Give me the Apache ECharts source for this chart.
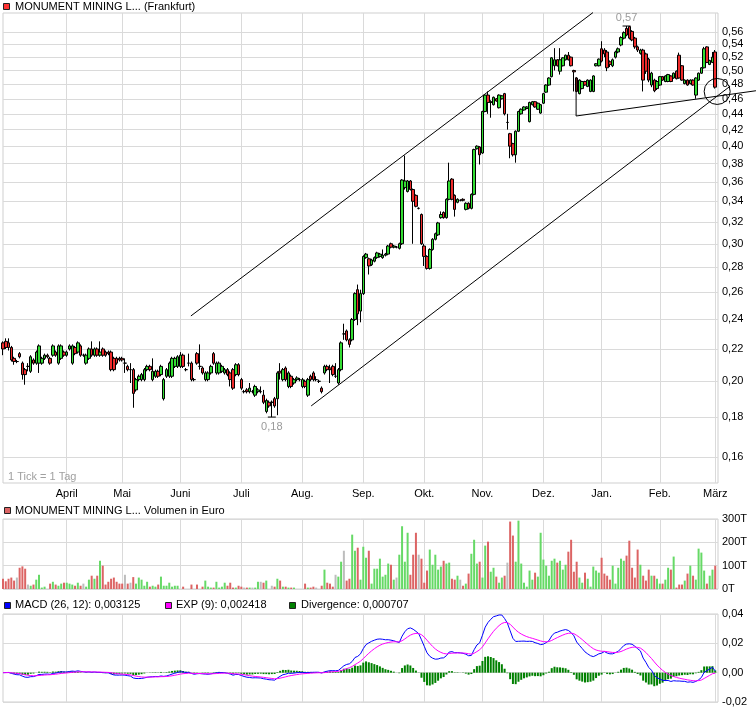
<!DOCTYPE html>
<html><head><meta charset="utf-8">
<script src="https://cdn.jsdelivr.net/npm/echarts@6/dist/echarts.min.js"></script>
<style>html,body{margin:0;padding:0;background:#fff}#c{width:756px;height:724px}</style>
</head><body><div id="c"></div>
<script>
// ---------- data ----------
const firstDay = '2010-03-01', lastDay = '2011-03-02';
const holidays = ['2010-04-02','2010-04-05','2010-12-24','2010-12-31'];
const monthLabels = ['Jan.','Feb.','März','April','Mai','Juni','Juli','Aug.','Sep.','Okt.','Nov.','Dez.'];
const priceTicks = [0.16,0.18,0.20,0.22,0.24,0.26,0.28,0.30,0.32,0.34,0.36,0.38,0.40,0.42,0.44,0.46,0.48,0.50,0.52,0.54,0.56];
const priceRange = [0.1482, 0.5923];
const volumeTicksT = [0, 100, 200, 300];
const macdRange = [-0.02, 0.04];
const titleMain = 'MONUMENT MINING L... (Frankfurt)';
const titleVolume = 'MONUMENT MINING L... Volumen in Euro';
const macdLegend = ['MACD (26, 12): 0,003125', 'EXP (9): 0,002418', 'Divergence: 0,000707'];
const tickNote = '1 Tick = 1 Tag';

// [open, close, low, high] per trading day
const ohlc = [
// März
[.224,.220,.216,.225],[.225,.221,.220,.227],[.224,.221,.219,.227],[.221,.213,.212,.222],[.214,.212,.210,.215],
[.212,.212,.211,.213],[.217,.215,.214,.218],[.211,.204,.201,.212],[.207,.204,.198,.208],[.209,.209,.206,.211],
[.206,.215,.205,.216],[.213,.211,.210,.214],[.211,.218,.210,.219],[.211,.222,.205,.223],[.211,.214,.210,.215],
[.214,.216,.213,.217],[.216,.215,.214,.217],[.214,.211,.210,.215],[.216,.222,.215,.223],[.218,.216,.215,.219],
[.211,.222,.210,.223],[.214,.222,.213,.223],[.218,.216,.215,.219],
// April
[.216,.218,.215,.219],[.220,.222,.219,.223],[.211,.222,.210,.223],[.221,.217,.216,.222],[.218,.224,.217,.225],
[.222,.216,.215,.223],[.216,.216,.215,.217],[.211,.216,.210,.217],[.214,.220,.213,.221],[.220,.216,.215,.225],
[.216,.220,.215,.221],[.220,.216,.215,.221],[.216,.218,.215,.225],[.220,.216,.215,.221],[.218,.216,.215,.219],
[.218,.217,.216,.219],[.218,.207,.206,.219],[.214,.207,.206,.215],[.214,.211,.210,.215],[.214,.213,.212,.215],
// Mai
[.214,.213,.212,.215],[.211,.211,.205,.214],[.209,.207,.206,.210],[.207,.207,.199,.211],[.207,.193,.185,.208],
[.195,.201,.194,.202],[.201,.203,.200,.204],[.201,.204,.200,.205],[.201,.207,.200,.208],[.207,.209,.206,.210],
[.209,.207,.206,.210],[.201,.206,.200,.214],[.203,.206,.202,.207],[.206,.203,.202,.207],[.204,.209,.203,.210],
[.190,.201,.189,.202],[.203,.207,.202,.208],[.203,.211,.202,.212],[.203,.214,.202,.215],[.209,.214,.208,.215],
[.209,.215,.208,.216],
// Juni
[.209,.216,.208,.218],[.216,.209,.208,.217],[.207,.207,.206,.208],[.211,.211,.209,.217],[.211,.201,.200,.212],
[.201,.201,.200,.202],[.217,.211,.210,.218],[.209,.209,.207,.223],[.208,.205,.204,.209],[.201,.205,.200,.206],
[.201,.205,.200,.206],[.205,.209,.204,.210],[.217,.211,.210,.218],[.205,.211,.204,.212],[.205,.211,.204,.212],
[.206,.209,.205,.210],[.205,.207,.204,.208],[.207,.204,.203,.208],[.205,.201,.197,.206],[.207,.196,.195,.208],
[.204,.210,.203,.211],[.210,.204,.203,.211],
// Juli
[.201,.196,.195,.202],[.194,.194,.193,.195],[.195,.194,.193,.196],[.194,.196,.193,.199],[.194,.194,.193,.195],
[.192,.197,.191,.198],[.194,.195,.193,.196],[.194,.194,.193,.197],[.192,.188,.187,.195],[.183,.189,.182,.190],
[.188,.186,.185,.189],[.188,.188,.180,.189],[.190,.186,.185,.191],[.190,.205,.181,.206],[.206,.205,.201,.211],
[.201,.207,.200,.208],[.208,.201,.200,.209],[.197,.205,.196,.206],[.203,.197,.196,.204],[.199,.201,.198,.202],
[.201,.202,.200,.203],[.201,.201,.200,.202],
// Aug.
[.197,.201,.196,.202],[.200,.197,.196,.201],[.192,.201,.191,.202],[.203,.201,.200,.204],[.205,.201,.200,.206],
[.201,.201,.200,.203],[.200,.200,.199,.201],[.196,.194,.193,.197],[.205,.209,.204,.210],[.209,.207,.206,.210],
[.208,.207,.199,.210],[.209,.204,.203,.210],[.203,.203,.202,.211],[.199,.207,.198,.208],[.207,.224,.206,.225],
[.230,.230,.226,.237],[.232,.226,.225,.233],[.226,.223,.221,.227],[.226,.240,.225,.241],[.240,.259,.239,.260],
[.262,.244,.236,.266],[.246,.259,.238,.262],
// Sep.
[.259,.289,.258,.290],[.288,.291,.287,.292],[.287,.281,.274,.288],[.282,.286,.281,.287],[.285,.288,.284,.289],
[.288,.292,.287,.293],[.289,.291,.288,.292],[.288,.290,.287,.295],[.290,.291,.289,.292],[.291,.298,.290,.299],
[.300,.297,.296,.301],[.297,.298,.296,.299],[.297,.297,.296,.298],[.296,.300,.295,.301],[.300,.362,.299,.363],
[.354,.361,.352,.389],[.350,.361,.349,.362],[.361,.352,.351,.362],[.352,.340,.300,.353],[.346,.335,.334,.347],
[.333,.333,.332,.334],[.327,.300,.299,.328],
// Okt.
[.298,.289,.281,.300],[.289,.279,.278,.290],[.279,.295,.278,.296],[.295,.304,.294,.305],[.304,.309,.303,.310],
[.308,.319,.307,.320],[.324,.327,.323,.330],[.329,.324,.323,.330],[.324,.342,.323,.343],[.342,.361,.341,.381],
[.363,.342,.341,.364],[.346,.332,.325,.347],[.339,.342,.338,.343],[.341,.341,.340,.342],[.342,.341,.340,.343],
[.332,.338,.331,.339],[.338,.333,.332,.339],[.333,.347,.332,.348],[.347,.396,.346,.397],[.397,.400,.396,.401],
[.399,.390,.379,.400],
// Nov.
[.392,.443,.391,.444],[.443,.465,.442,.466],[.465,.455,.440,.470],[.455,.456,.435,.458],[.452,.462,.451,.463],
[.460,.457,.456,.461],[.448,.465,.447,.466],[.460,.464,.459,.465],[.467,.440,.438,.468],[.429,.429,.420,.440],
[.415,.400,.386,.416],[.403,.390,.388,.404],[.390,.418,.381,.419],[.418,.443,.417,.444],[.440,.446,.439,.447],
[.445,.449,.444,.450],[.447,.449,.446,.450],[.430,.455,.429,.456],[.452,.456,.451,.457],[.456,.449,.448,.457],
[.446,.454,.445,.455],[.441,.452,.440,.453],
// Dez.
[.454,.467,.453,.468],[.469,.479,.468,.480],[.479,.489,.478,.490],[.491,.519,.490,.520],[.507,.516,.500,.534],
[.516,.507,.506,.517],[.499,.516,.494,.534],[.507,.519,.506,.520],[.516,.523,.515,.524],[.523,.516,.515,.528],
[.520,.507,.506,.521],[.500,.498,.470,.501],[.489,.470,.469,.490],[.467,.486,.466,.487],[.474,.484,.473,.485],
[.484,.479,.478,.485],[.477,.486,.476,.487],[.470,.486,.469,.487],[.470,.492,.469,.493],[.507,.510,.506,.511],
[.507,.517,.506,.518],
// Jan.
[.533,.514,.512,.545],[.531,.525,.520,.534],[.528,.504,.499,.531],[.513,.509,.505,.515],[.507,.516,.505,.518],
[.520,.528,.518,.530],[.528,.533,.526,.535],[.539,.551,.537,.553],[.550,.559,.548,.561],[.566,.555,.553,.570],
[.569,.550,.548,.570],[.561,.547,.545,.563],[.550,.536,.533,.552],[.536,.531,.528,.538],[.526,.531,.524,.533],
[.531,.486,.470,.533],[.525,.499,.495,.527],[.517,.486,.483,.519],[.479,.496,.476,.498],[.486,.471,.469,.488],
[.474,.484,.472,.486],
// Feb.
[.479,.491,.478,.492],[.491,.486,.485,.492],[.484,.492,.483,.493],[.484,.494,.483,.495],[.492,.484,.483,.493],
[.489,.496,.488,.497],[.499,.488,.487,.500],[.523,.489,.488,.527],[.507,.486,.485,.508],[.481,.486,.480,.487],
[.486,.479,.478,.487],[.481,.486,.480,.487],[.486,.479,.478,.487],[.465,.489,.460,.490],[.486,.496,.485,.497],
[.496,.504,.495,.505],[.504,.533,.503,.536],[.536,.512,.511,.537],[.509,.515,.508,.516],[.512,.520,.511,.528],
// März
[.528,.476,.474,.531]
];

// daily turnover in thousand euro (T)
const volumeT = [
44,33,44,49,36,49,91,97,87,19,14,19,40,61,6,10,0,23,31,19,14,23,27,
27,23,19,14,27,14,23,10,40,57,44,57,121,100,19,31,44,49,31,23,
23,61,23,27,51,23,49,40,14,31,10,14,10,19,53,14,14,27,10,14,14,
0,10,0,0,19,0,19,0,10,36,10,6,6,31,6,10,27,14,27,6,6,14,
10,6,6,6,6,6,31,31,27,36,0,14,10,44,36,10,10,6,6,6,0,0,
0,23,6,6,10,6,0,14,83,27,23,10,61,53,117,164,36,44,233,164,177,40,
181,134,164,23,87,87,130,53,61,109,104,40,49,147,269,117,241,61,147,241,147,130,
27,79,169,104,147,83,96,121,109,113,44,40,57,40,14,23,66,151,211,109,117,
49,186,203,74,91,53,27,49,57,113,289,229,117,293,109,27,10,79,40,70,53,241,
126,100,57,121,130,113,121,83,104,160,211,74,117,49,27,70,44,10,96,79,70,
134,66,57,40,100,23,91,130,121,143,207,91,49,169,104,57,36,83,57,57,44,
23,23,40,91,83,139,6,19,19,36,66,100,57,40,173,156,79,23,57,83,
100
];

// hand-drawn trend lines: [[dayIndex, price], [dayIndex, price]]
const trendLines = [
  [[67.8, 0.2425], [212.9, 0.5931]],
  [[111.2, 0.1860], [262.0, 0.4762]],
  [[206.8, 0.4905], [206.8, 0.4372]],
  [[206.8, 0.4372], [271.7, 0.4710]]
];
const circleMark = { center: [257.7, 0.470], radius: 13 };

// ---------- helpers ----------
const FONT = '"Liberation Sans", Arial, Helvetica, sans-serif';
const GRID = '#dadada';
const fmt = (v, d) => v.toFixed(d).replace('.', ',');

function tradingDays() {
  const out = [];
  const start = new Date(firstDay + 'T00:00:00Z').getTime();
  const end = new Date(lastDay + 'T00:00:00Z').getTime();
  for (let t = start; t <= end; t += 86400000) {
    const d = new Date(t);
    const wd = d.getUTCDay();
    const s = d.toISOString().slice(0, 10);
    if (wd !== 0 && wd !== 6 && holidays.indexOf(s) < 0) out.push(s);
  }
  return out;
}
const dates = tradingDays();
const isMonthStart = (i) => i > 0 && dates[i].slice(5, 7) !== dates[i - 1].slice(5, 7);

function ema(arr, n) {
  const k = 2 / (n + 1); const out = [arr[0]];
  for (let i = 1; i < arr.length; i++) out.push(arr[i] * k + out[i - 1] * (1 - k));
  return out;
}
const closes = ohlc.map(r => r[1]);
const e12 = ema(closes, 12), e26 = ema(closes, 26);
const macd = closes.map((_, i) => e12[i] - e26[i]);
const signal = ema(macd, 9);
const diverg = macd.map((m, i) => m - signal[i]);

const lnOHLC = ohlc.map(r => r.map(Math.log));
const lnTicks = priceTicks.map(Math.log);
const dirColor = (r) => r[1] > r[0] ? '#66d966' : (r[1] < r[0] ? '#dc6464' : '#bdbdbd');

const chart = echarts.init(document.getElementById('c'), null, { renderer: 'canvas' });

const gridCommon = { left: 3, right: 38, show: true, borderColor: '#cfcfcf', borderWidth: 1, outerBoundsMode: 'none', containLabel: false };
const catAxis = (gi, showLabel) => ({
  type: 'category', gridIndex: gi, data: dates, boundaryGap: false,
  axisLine: { show: false }, axisTick: { show: false },
  axisLabel: showLabel ? {
    show: true, interval: (i) => isMonthStart(i), formatter: (v) => monthLabels[+v.slice(5, 7) - 1],
    color: '#000', fontSize: 11, fontFamily: FONT, margin: 5
  } : { show: false },
  splitLine: { show: true, interval: (i) => isMonthStart(i), lineStyle: { color: GRID, width: 1 } }
});

const option = {
  animation: false,
  backgroundColor: '#fff',
  grid: [
    Object.assign({ top: 13, height: 470 }, gridCommon),
    Object.assign({ top: 519, height: 70 }, gridCommon),
    Object.assign({ top: 614, height: 88 }, gridCommon)
  ],
  xAxis: [catAxis(0, true), catAxis(1, false), catAxis(2, false)],
  yAxis: [
    {
      type: 'value', gridIndex: 0, position: 'right',
      min: Math.log(priceRange[0]), max: Math.log(priceRange[1]),
      axisLine: { show: false }, axisTick: { show: false, customValues: lnTicks },
      axisLabel: { customValues: lnTicks, formatter: (v) => fmt(Math.exp(v), 2), color: '#000', fontSize: 11, fontFamily: FONT, margin: 4 },
      splitLine: { show: true, lineStyle: { color: GRID, width: 1 } }
    },
    {
      type: 'value', gridIndex: 1, position: 'right', min: volumeTicksT[0], max: volumeTicksT[volumeTicksT.length - 1], interval: 100,
      axisLine: { show: false }, axisTick: { show: false },
      axisLabel: { formatter: (v) => v + 'T', color: '#000', fontSize: 11, fontFamily: FONT, margin: 4 },
      splitLine: { show: true, lineStyle: { color: GRID, width: 1 } }
    },
    {
      type: 'value', gridIndex: 2, position: 'right', min: macdRange[0], max: macdRange[1], interval: 0.02,
      axisLine: { show: false }, axisTick: { show: false },
      axisLabel: { formatter: (v) => fmt(v, 2), color: '#000', fontSize: 11, fontFamily: FONT, margin: 4 },
      splitLine: { show: true, lineStyle: { color: GRID, width: 1 } }
    }
  ],
  series: [
    {
      type: 'candlestick', xAxisIndex: 0, yAxisIndex: 0, data: lnOHLC, barWidth: 3,
      itemStyle: { color: '#33dd33', color0: '#ee2b2b', borderColor: '#000', borderColor0: '#000', borderWidth: 1 },
      markPoint: {
        symbol: 'rect', symbolSize: [8, 1], itemStyle: { color: '#000' },
        label: { show: true, color: '#9a9a9a', fontSize: 11, fontFamily: FONT, formatter: (p) => fmt(Math.exp(p.value), 2) },
        data: [
          { type: 'max', valueDim: 'highest', label: { position: 'top', distance: 2 } },
          { type: 'min', valueDim: 'lowest', label: { position: 'bottom', distance: 4 } }
        ]
      }
    },
    {
      type: 'bar', xAxisIndex: 1, yAxisIndex: 1, barWidth: 2,
      data: volumeT.map((v, i) => ({ value: v, itemStyle: { color: dirColor(ohlc[i]) } }))
    },
    { type: 'bar', xAxisIndex: 2, yAxisIndex: 2, barWidth: 2, data: diverg, itemStyle: { color: '#008000' } },
    { type: 'line', xAxisIndex: 2, yAxisIndex: 2, data: macd, showSymbol: false, symbol: 'none', lineStyle: { color: '#0000ff', width: 1 } },
    { type: 'line', xAxisIndex: 2, yAxisIndex: 2, data: signal, showSymbol: false, symbol: 'none', lineStyle: { color: '#ff00ff', width: 1 } }
  ]
};
chart.setOption(option);

// convert (fractional day index, price) to pixels via the axes
function toPx(idx, price) {
  const a = chart.convertToPixel({ xAxisIndex: 0, yAxisIndex: 0 }, [0, Math.log(price)]);
  const b = chart.convertToPixel({ xAxisIndex: 0, yAxisIndex: 0 }, [100, Math.log(price)]);
  return [a[0] + (b[0] - a[0]) * idx / 100, a[1]];
}

const g = [];
const legendBox = (id, x, y, color) => ({ type: 'rect', id: id, z: 100, shape: { x: x + 0.5, y: y + 0.5, width: 6, height: 6 }, style: { fill: color, stroke: '#222', lineWidth: 1 } });
const legendText = (id, x, y, text) => ({ type: 'text', id: id, z: 100, x: x, y: y, style: { text: text, fill: '#000', font: '11px ' + FONT, textVerticalAlign: 'middle', verticalAlign: 'middle' } });
g.push(legendBox('b1', 3, 3, '#ff3333'), legendText('t1', 15, 7, titleMain));
g.push(legendBox('b2', 4, 507, '#dc6464'), legendText('t2', 15, 511, titleVolume));
g.push(legendBox('b3', 4, 602, '#0000ff'), legendText('t3', 15, 605, macdLegend[0]));
g.push(legendBox('b4', 165, 602, '#ff00ff'), legendText('t4', 176, 605, macdLegend[1]));
g.push(legendBox('b5', 289, 602, '#008000'), legendText('t5', 301, 605, macdLegend[2]));
g.push({ type: 'text', id: 'note', z: 100, x: 8, y: 477, style: { text: tickNote, fill: '#a0a0a0', font: '11px ' + FONT, verticalAlign: 'middle' } });
trendLines.forEach((ln, k) => {
  const p1 = toPx(ln[0][0], ln[0][1]), p2 = toPx(ln[1][0], ln[1][1]);
  g.push({ type: 'line', id: 'tl' + k, z: 90, shape: { x1: p1[0], y1: p1[1], x2: p2[0], y2: p2[1] }, style: { stroke: '#000', lineWidth: 1 } });
});
const cc = toPx(circleMark.center[0], circleMark.center[1]);
g.push({ type: 'circle', id: 'circ', z: 90, shape: { cx: cc[0], cy: cc[1], r: circleMark.radius }, style: { fill: 'none', stroke: '#000', lineWidth: 1 } });
chart.setOption({ graphic: { elements: g } });
</script>
</body></html>
